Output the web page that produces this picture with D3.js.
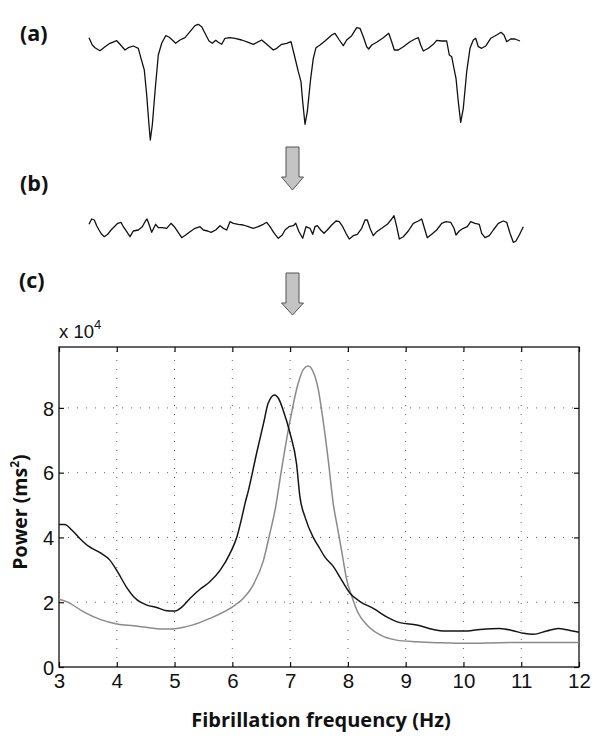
<!DOCTYPE html>
<html>
<head>
<meta charset="utf-8">
<script src="https://cdn.jsdelivr.net/npm/d3@7"></script>
<style>
  html, body { margin: 0; padding: 0; background: #fff; }
  svg { display: block; }
</style>
</head>
<body>
<svg id="chart" width="600" height="742"></svg>
<script>
// ---------- DATA ----------
// Trace (a): raw atrial electrogram (time units, amplitude units)
const tA = [0,3.3,6,11,16,21,27.7,31,36,39.3,44.3,49.3,52,55.3,57.7,60,61.3,63.3,66,69.3,72.7,76.7,80,83.3,86.7,91,96,101,106,109.3,112.7,116,120,123.3,126.7,129.3,132.7,136,141,146,152.7,159.3,164.3,172.7,177.7,184.3,187.7,192.7,197.7,202,205.3,209.3,212,213.7,216,218.3,221.7,224.3,227,231,236,242.7,246,250.3,254.3,257.7,262.7,267.7,271,274.3,277.7,279.7,282.7,287.7,294.3,299.7,302.7,305.3,309.3,314.3,321,326,329.3,331.7,334.3,339.3,344.3,347.7,352.7,357.7,360.3,362.7,364.3,367,369.3,371.7,374.3,377.7,381,384.3,386.7,389.3,392.7,397,401.7,407.7,412,415,417.7,421.7,426,431];
const vA = [2.3,-5,-7.7,-10.7,-6.7,-3.3,-0.7,-4.3,-10,-7.7,-6,-8.3,-18.3,-30,-55,-85,-100,-85,-51.7,-15,-3.3,4.3,3,0,-3.3,0,2.3,8.3,14.3,15.7,13.3,6.7,-1,-3.3,-0.3,-2.3,-4.3,1.7,2.3,1.7,0,-2.3,-4.3,0,-4.3,-10,-8.3,-4.3,-3.3,-1.7,-15,-31.7,-41.7,-61.7,-84.3,-71.7,-38.3,-18.3,-7.7,-5,-1,5,6.7,0,-5.7,0,4.3,12.3,11.7,3.3,-6.7,-9,-5,-2.3,2.3,6.7,-1.7,-10,-10,-6.7,-1.7,1,2.3,-5,-11,-8.3,-4.3,-0.3,-1,-1,-15,-16.7,-25,-38.3,-61.7,-82.3,-68.3,-31.7,-8.3,0,1.7,-6.7,-8.3,-5.7,1.7,5,7.7,5,-1.7,1,1,-1];

// Trace (b): residual atrial signal after QRST cancellation
const tB = [0,2.7,5.3,7.7,10,12.7,15.3,18.7,22,25.3,28.7,32,34.3,37.7,41,44.3,49.3,53.3,56,58,60,62.7,64.3,66.7,69.3,73.3,77.7,82,85.3,88.7,92.7,96.7,101,106,111,114.3,118.7,122,126.7,131,134.3,137.7,141,144.3,149.3,154.3,159.3,164.3,169.3,174.3,177.7,181,185.3,189.3,193.3,196,200,204.3,206.7,210,213.7,217,221,223.7,226,228.3,231.7,235,238.3,242.7,247,250.3,253.7,257,260.3,264.3,268.3,272.7,276,278.3,281,284.3,287.7,292.7,298.3,302.7,305,307.7,310.3,314.3,319.3,324.3,329.3,332.7,335,338.3,342.7,347.7,352.7,357,361.7,365,367,370.3,374.3,378.3,381.7,386,390.3,392.7,396,400.3,404.3,409.3,414.3,417.7,421,424.3,427,430.3,434.3];
const vB = [3.7,9,8,2.3,-2,-6.3,-8.7,-6.3,-2,1.3,4.7,5.7,1.3,-3.7,-8.7,-3,-2,1.3,6.3,9,3.7,-4.3,-1,3.7,0.3,0.3,-0.3,4.7,1.3,-3.7,-9.7,-7,-3.7,-0.3,1.3,-2,-3,-4.3,-2,2.3,-0.3,-2,6.3,4.7,3.7,3,1.3,-0.3,1.3,3.7,5.7,1.3,-5.3,-10.3,-7,-2,1.3,2.3,4.7,-3.7,-10.3,1.3,-0.3,-6.3,1.3,2.3,-2,-5.3,-2,3,7,6.3,1.3,-5.3,-11,-7.7,-6.3,-0.3,8,8,-0.3,-7.7,-3.7,-0.3,3.7,9,12.3,1.3,-11,-8.7,-3,4.7,7,9,1.3,-9.7,-6.3,-2,4.7,6.3,5.7,-0.3,-7,-3,-0.3,1.3,6.3,4.7,3.7,-5.3,-9.7,-7.7,-2,4.7,7,5.7,-5.3,-14.3,-13,-7,1.3];

// Panel (c): power spectra (x 10^4 ms^2) vs fibrillation frequency (Hz)
const freqDark = [3.0,3.10,3.22,3.36,3.51,3.71,3.88,4.03,4.17,4.32,4.52,4.69,4.86,5.01,5.12,5.27,5.44,5.61,5.79,5.96,6.08,6.16,6.22,6.28,6.42,6.54,6.62,6.73,6.80,6.88,7.00,7.11,7.17,7.26,7.40,7.50,7.60,7.75,7.89,8.04,8.21,8.44,8.67,8.90,9.19,9.48,9.65,10.0,10.29,10.63,10.86,11.04,11.21,11.44,11.64,11.81,12.0];
const powerDark = [4.40,4.40,4.23,3.97,3.73,3.53,3.30,2.89,2.46,2.12,1.91,1.84,1.74,1.73,1.84,2.12,2.40,2.63,2.99,3.51,4.02,4.58,5.05,5.46,6.60,7.52,8.14,8.40,8.29,7.93,7.21,6.29,5.25,4.62,4.00,3.70,3.40,3.10,2.69,2.27,2.02,1.81,1.55,1.37,1.30,1.16,1.11,1.11,1.16,1.19,1.12,1.04,1.01,1.11,1.19,1.14,1.07];
const freqGray = [3.0,3.13,3.42,3.71,4.0,4.29,4.57,4.86,5.04,5.32,5.61,5.96,6.19,6.36,6.54,6.65,6.74,6.85,7.0,7.14,7.23,7.31,7.40,7.49,7.57,7.66,7.75,7.81,7.89,7.98,8.07,8.18,8.33,8.56,8.84,9.19,9.59,10.06,10.63,11.21,12.0];
const powerGray = [2.09,2.02,1.71,1.47,1.33,1.27,1.21,1.17,1.19,1.30,1.50,1.81,2.12,2.53,3.30,4.13,4.85,6.08,7.62,8.76,9.19,9.29,9.11,8.55,7.62,6.39,5.00,4.40,3.60,2.69,2.17,1.66,1.30,0.99,0.83,0.78,0.75,0.73,0.75,0.76,0.76];

const xTicks = [3,4,5,6,7,8,9,10,11,12];
const yTicks = [0,2,4,6,8];
const panelLabels = ["(a)", "(b)", "(c)"];

// ---------- DRAWING ----------
const svg = d3.select("#chart");
const boldFont = "'Open Sans', 'DejaVu Sans', sans-serif";
const axisFont = "'Liberation Sans', Arial, sans-serif";

// Panel labels
const labelPos = [[20, 41], [20, 191], [19, 288]];
svg.selectAll("text.panel").data(panelLabels).join("text")
  .attr("class", "panel")
  .attr("x", (d, i) => labelPos[i][0])
  .attr("y", (d, i) => labelPos[i][1])
  .attr("font-family", boldFont).attr("font-weight", "bold")
  .attr("font-size", 21.5).attr("fill", "#111")
  .text(d => d);

// Trace scales
const tScale = d3.scaleLinear().domain([0, 431]).range([89, 520]);
const vAScale = d3.scaleLinear().domain([-100, 20]).range([140, 20]);
const vBScale = d3.scaleLinear().domain([-20, 20]).range([248, 208]);

const lineA = d3.line().x(i => tScale(tA[i])).y(i => vAScale(vA[i]));
const lineB = d3.line().x(i => tScale(tB[i])).y(i => vBScale(vB[i]));
svg.append("path").attr("d", lineA(d3.range(tA.length)))
  .attr("fill", "none").attr("stroke", "#111").attr("stroke-width", 1.3).attr("stroke-linejoin", "round");
svg.append("path").attr("d", lineB(d3.range(tB.length)))
  .attr("fill", "none").attr("stroke", "#111").attr("stroke-width", 1.3).attr("stroke-linejoin", "round");

// Arrows
function arrow(cx, top, shaftBottom, tip) {
  const sw = 6.5, hw = 11;
  const pts = [[cx - sw, top], [cx + sw, top], [cx + sw, shaftBottom], [cx + hw, shaftBottom],
               [cx, tip], [cx - hw, shaftBottom], [cx - sw, shaftBottom]];
  svg.append("path").attr("d", d3.line()(pts) + "Z")
    .attr("fill", "#c4c4c4").attr("stroke", "#555").attr("stroke-width", 1);
}
arrow(292.5, 147, 177, 190);
arrow(292.5, 273, 303, 315);

// Spectrum plot
const x = d3.scaleLinear().domain([3, 12]).range([59, 579]);
const y = d3.scaleLinear().domain([0, 9.88]).range([667, 347]);

const grid = svg.append("g").attr("stroke", "#666").attr("stroke-width", 1)
  .attr("stroke-dasharray", "1,8");
grid.selectAll("line.gx").data(xTicks.slice(1, -1)).join("line")
  .attr("x1", d => x(d)).attr("x2", d => x(d))
  .attr("y1", y(0)).attr("y2", y.range()[1]);
grid.selectAll("line.gy").data(yTicks.slice(1)).join("line")
  .attr("y1", d => y(d)).attr("y2", d => y(d))
  .attr("x1", x(3)).attr("x2", x(12));

const xAxis = svg.append("g").attr("transform", `translate(0,${y(0)})`)
  .call(d3.axisBottom(x).tickValues(xTicks).tickSize(-5).tickSizeOuter(0).tickPadding(6));
const xTop = svg.append("g").attr("transform", `translate(0,${y.range()[1]})`)
  .call(d3.axisTop(x).tickValues(xTicks).tickSize(-5).tickSizeOuter(0).tickFormat(""));
const yAxis = svg.append("g").attr("transform", `translate(${x(3)},0)`)
  .call(d3.axisLeft(y).tickValues(yTicks).tickSize(-5).tickSizeOuter(0).tickPadding(5));
const yRight = svg.append("g").attr("transform", `translate(${x(12)},0)`)
  .call(d3.axisRight(y).tickValues(yTicks).tickSize(-5).tickSizeOuter(0).tickFormat(""));
[xAxis, xTop, yAxis, yRight].forEach(g => {
  g.select(".domain").remove();
  g.selectAll(".tick line").attr("stroke", "#111").attr("stroke-width", 1.2);
  g.selectAll("text").attr("font-family", axisFont).attr("fill", "#111");
});
xAxis.selectAll("text").attr("font-size", 20.5);
yAxis.selectAll("text").attr("font-size", 20).attr("dy", "0.36em");

svg.append("rect").attr("x", x(3)).attr("y", y.range()[1])
  .attr("width", x(12) - x(3)).attr("height", y(0) - y.range()[1])
  .attr("fill", "none").attr("stroke", "#111").attr("stroke-width", 1.3);

const lineDark = d3.line().curve(d3.curveMonotoneX).x(i => x(freqDark[i])).y(i => y(powerDark[i]));
const lineGray = d3.line().curve(d3.curveMonotoneX).x(i => x(freqGray[i])).y(i => y(powerGray[i]));
svg.append("path").attr("d", lineGray(d3.range(freqGray.length)))
  .attr("fill", "none").attr("stroke", "#8a8a8a").attr("stroke-width", 1.5);
svg.append("path").attr("d", lineDark(d3.range(freqDark.length)))
  .attr("fill", "none").attr("stroke", "#151515").attr("stroke-width", 1.5);

// Exponent label
const expo = svg.append("text").attr("x", 59).attr("y", 338)
  .attr("font-family", axisFont).attr("font-size", 18.5).attr("fill", "#111");
expo.append("tspan").text("x 10");
expo.append("tspan").attr("font-size", 13).attr("dy", -9).text("4");

// Axis titles
svg.append("text").attr("x", 321).attr("y", 727).attr("text-anchor", "middle")
  .attr("font-family", boldFont).attr("font-weight", "bold").attr("font-size", 20).attr("fill", "#111")
  .text("Fibrillation frequency (Hz)");
const yt = svg.append("text").attr("transform", "translate(27,512) rotate(-90)").attr("text-anchor", "middle")
  .attr("font-family", boldFont).attr("font-weight", "bold").attr("font-size", 19.5).attr("fill", "#111");
yt.append("tspan").text("Power (ms");
yt.append("tspan").attr("font-size", 12).attr("dy", -8).text("2");
yt.append("tspan").attr("dy", 8).text(")");
</script>
</body>
</html>
